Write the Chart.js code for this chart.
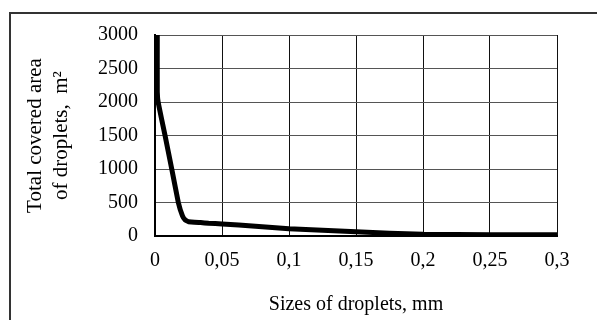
<!DOCTYPE html>
<html>
<head>
<meta charset="utf-8">
<script src="https://cdn.jsdelivr.net/npm/chart.js@4/dist/chart.umd.min.js"></script>
<style>
html,body{margin:0;padding:0;background:#fff;}
#wrap{position:relative;width:597px;height:320px;}
</style>
</head>
<body>
<div id="wrap"><canvas id="c" width="597" height="320"></canvas></div>
<script>
// Data
const sizesMm = [0.0017, 0.0017, 0.0025, 0.0075, 0.0125, 0.0174, 0.0205, 0.0225, 0.025, 0.034, 0.04, 0.05, 0.075, 0.1, 0.125, 0.15, 0.175, 0.2, 0.25, 0.3];
const coveredArea = [3000, 2150, 1980, 1500, 1000, 500, 300, 240, 213, 200, 190, 180, 145, 108, 85, 63, 40, 25, 20, 20];
const xTitle = "Sizes of droplets, mm";
const yTitle = ["Total covered area", "of droplets,  m\u00B2"];

const points = sizesMm.map((x, i) => ({x: x, y: coveredArea[i]}));
const FONT = "'Liberation Serif', 'Times New Roman', serif";

const framePlugin = {
  id: 'frame',
  beforeDraw(chart) {
    const ctx = chart.ctx;
    ctx.save();
    ctx.fillStyle = '#fff';
    ctx.fillRect(0, 0, chart.width, chart.height);
    ctx.strokeStyle = '#333';
    ctx.lineWidth = 2;
    ctx.beginPath();
    ctx.moveTo(10, 320);
    ctx.lineTo(10, 13);
    ctx.lineTo(597, 13);
    ctx.stroke();
    ctx.restore();
  }
};

new Chart(document.getElementById('c'), {
  type: 'line',
  data: {
    datasets: [{
      data: points,
      borderColor: '#000',
      borderWidth: 5,
      pointRadius: 0,
      tension: 0.05,
      borderJoinStyle: 'round',
      borderCapStyle: 'butt',
      fill: false
    }]
  },
  options: {
    responsive: false,
    animation: false,
    devicePixelRatio: 1,
    layout: {padding: {left: 0, top: 35, right: 40, bottom: 0}},
    plugins: {legend: {display: false}, tooltip: {enabled: false}},
    scales: {
      x: {
        type: 'linear',
        min: 0, max: 0.3,
        afterFit(s) { s.height = 84; },
        ticks: {
          stepSize: 0.05,
          padding: 13,
          color: '#000',
          font: {family: FONT, size: 20},
          maxRotation: 0,
          callback: v => (Math.round(v * 100) / 100).toString().replace('.', ',')
        },
        grid: {color: '#111', lineWidth: 1, drawTicks: false},
        border: {color: '#000', width: 2},
        title: {
          display: true,
          text: xTitle,
          color: '#000',
          font: {family: FONT, size: 20, lineHeight: 1.2},
          padding: {top: 0, bottom: 3}
        }
      },
      y: {
        min: 0, max: 3000,
        afterFit(s) { s.width = 155; },
        ticks: {
          stepSize: 500,
          padding: 17,
          color: '#000',
          font: {family: FONT, size: 20},
          callback: v => String(v)
        },
        grid: {color: '#555', lineWidth: 1, drawTicks: false},
        border: {color: '#000', width: 2},
        title: {
          display: true,
          text: yTitle,
          color: '#000',
          font: {family: FONT, size: 21, lineHeight: 1.25},
          padding: {top: 22, bottom: 0}
        }
      }
    }
  },
  plugins: [framePlugin]
});
</script>
</body>
</html>
